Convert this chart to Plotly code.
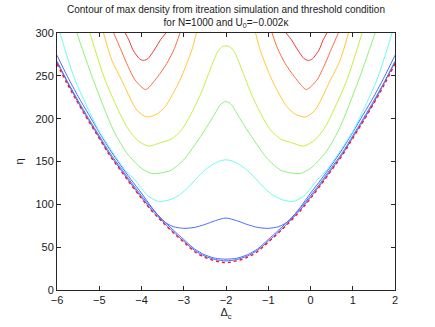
"""
Contour of max density (iteration simulation) with threshold condition,
N=1000, U0=-0.002 kappa. Contour levels traced from the reference picture.
"""
import plotly.graph_objects as go

FONT = "Liberation Sans, Arial, Helvetica, sans-serif"

# threshold condition (red markers) and the near-threshold blue levels
THRESH_X = [-6.0, -5.75, -5.5, -5.25, -5.0, -4.75, -4.5, -4.25, -4.0, -3.75, -3.5,
            -3.25, -3.0, -2.75, -2.5, -2.25, -2.0, -1.75, -1.5, -1.25, -1.0, -0.75,
            -0.5, -0.25, 0.0, 0.25, 0.5, 0.75, 1.0, 1.25, 1.5, 1.75, 2.0]
THRESH_ETA = [264, 240, 218, 197, 177, 157, 140, 123, 107, 92, 79, 67, 56, 45, 38, 34,
              32, 34, 38, 45, 56, 67, 79, 92, 107, 123, 140, 157, 177, 197, 218, 240, 264]
BLUE_A_ETA = [267, 243, 221, 200, 180, 160, 143, 126, 110, 95, 82, 70, 59, 48, 41, 37,
              36, 37, 41, 48, 59, 70, 82, 95, 110, 126, 143, 160, 180, 200, 221, 243, 267]
BLUE_B_ETA = [266, 242, 219, 198, 178, 158, 141, 124, 108, 93, 80, 68, 57, 46.5, 39.5,
              35.5, 34, 35.5, 39.5, 46.5, 57, 68, 80, 93, 108, 124, 141, 158, 178, 198,
              219, 242, 266]
BLUE_BUMP_ETA = [274, 249, 226, 205, 184, 164, 146, 129, 113, 96, 81, 74, 72, 73, 76.5,
                 81, 84, 81, 76.5, 73, 72, 74, 81, 96, 113, 129, 146, 164, 184, 205, 226,
                 249, 274]

# levels spanning the whole window
CYAN_X = [-5.93, -5.57, -5.02, -4.71, -4.4, -4.15, -3.85, -3.6, -3.35, -3.1, -2.89,
          -2.7, -2.5, -2.3, -2.15, -2.0, -1.85, -1.7, -1.5, -1.3, -1.11, -0.9, -0.65,
          -0.4, -0.15, 0.15, 0.4, 0.71, 1.02, 1.57, 1.93]
CYAN_ETA = [300, 245, 187, 163, 141, 128, 110, 103.5, 105, 111, 120, 130, 140, 147,
            150.5, 152, 150.5, 147, 140, 130, 120, 111, 105, 103.5, 110, 128, 141, 163,
            187, 245, 300]

GREEN_X = [-5.53, -5.14, -4.67, -4.35, -4.0, -3.76, -3.5, -3.29, -3.0, -2.66, -2.42,
           -2.26, -2.13, -2.0, -1.87, -1.74, -1.58, -1.34, -1.0, -0.71, -0.5, -0.24,
           0.0, 0.35, 0.67, 1.14, 1.53]
GREEN_ETA = [300, 245, 187, 160, 142, 136, 137, 140, 152, 175, 193, 206, 216.5, 220,
             216.5, 206, 193, 175, 152, 140, 137, 136, 142, 160, 187, 245, 300]

YGREEN_X = [-5.22, -4.86, -4.35, -4.1, -3.84, -3.55, -3.3, -3.05, -2.8, -2.58, -2.4,
            -2.2, -2.1, -2.0, -1.9, -1.8, -1.6, -1.42, -1.2, -0.95, -0.7, -0.45, -0.16,
            0.1, 0.35, 0.86, 1.22]
YGREEN_ETA = [300, 245, 190.5, 175, 168, 172, 176, 187, 208, 231, 254, 278, 283.5, 285,
              283.5, 278, 254, 231, 208, 187, 176, 172, 168, 175, 190.5, 245, 300]

# closed-top levels: one U on each side of the centre
YELLOW_L_X = [-4.9, -4.7, -4.47, -4.11, -3.88, -3.65, -3.44, -3.09, -2.81, -2.7]
YELLOW_R_X = [-1.3, -1.19, -0.91, -0.56, -0.35, -0.12, 0.11, 0.47, 0.7, 0.9]
YELLOW_ETA = [300, 268, 245, 210, 202, 205, 214, 245, 280, 300]
YELLOW_R_ETA = [300, 280, 245, 214, 205, 202, 210, 245, 268, 300]

ORANGE_L_X = [-4.66, -4.5, -4.35, -4.15, -3.9, -3.68, -3.4, -3.22, -3.09]
ORANGE_R_X = [-0.91, -0.78, -0.6, -0.32, -0.1, 0.15, 0.35, 0.5, 0.66]
ORANGE_ETA = [300, 282, 264.5, 245, 234, 245, 264.5, 282, 300]

RED_L_X = [-4.39, -4.3, -4.2, -4.05, -3.96, -3.85, -3.7, -3.55, -3.42]
RED_R_X = [-0.58, -0.45, -0.3, -0.15, -0.04, 0.05, 0.2, 0.3, 0.39]
RED_ETA = [300, 292, 280, 270, 268, 270, 280, 292, 300]

X_TICKS = [-6, -5, -4, -3, -2, -1, 0, 1, 2]
Y_TICKS = [0, 50, 100, 150, 200, 250, 300]

COLORS = {
    "blue": "#4a6cff",
    "cyan": "#6cfcf0",
    "green": "#8ef27a",
    "ygreen": "#c4f040",
    "yellow": "#ffc832",
    "orange": "#ff6c3c",
    "red": "#f03a3a",
}


def _line(fig, x, y, color, width=1.0):
    fig.add_trace(go.Scatter(x=x, y=y, mode="lines", line={"color": color, "width": width,
                                                          "shape": "spline", "smoothing": 0.7},
                             showlegend=False, hoverinfo="skip"))


def build() -> go.Figure:
    fig = go.Figure()
    _line(fig, THRESH_X, BLUE_BUMP_ETA, COLORS["blue"])
    _line(fig, THRESH_X, BLUE_A_ETA, COLORS["blue"])
    _line(fig, THRESH_X, BLUE_B_ETA, COLORS["blue"])
    _line(fig, CYAN_X, CYAN_ETA, COLORS["cyan"])
    _line(fig, GREEN_X, GREEN_ETA, COLORS["green"])
    _line(fig, YGREEN_X, YGREEN_ETA, COLORS["ygreen"])
    _line(fig, YELLOW_L_X, YELLOW_ETA, COLORS["yellow"])
    _line(fig, YELLOW_R_X, YELLOW_R_ETA, COLORS["yellow"])
    _line(fig, ORANGE_L_X, ORANGE_ETA, COLORS["orange"])
    _line(fig, ORANGE_R_X, ORANGE_ETA, COLORS["orange"])
    _line(fig, RED_L_X, RED_ETA, COLORS["red"])
    _line(fig, RED_R_X, RED_ETA, COLORS["red"])

    # threshold condition
    fig.add_trace(go.Scatter(
        x=THRESH_X, y=THRESH_ETA, mode="lines",
        line={"color": "#ff1a1a", "width": 1.4, "dash": "dot", "shape": "spline"},
        showlegend=False, hoverinfo="skip",
    ))

    axis = dict(
        showline=True, linecolor="#262626", linewidth=1, mirror="ticks",
        ticks="inside", ticklen=4, tickcolor="#262626", showgrid=False, zeroline=False,
        automargin=False,
        tickfont={"size": 11, "color": "#1a1a1a", "family": FONT},
    )
    fig.update_xaxes(range=[-6, 2], tickvals=X_TICKS, title={"text": "Δ<sub>c</sub>",
                     "font": {"size": 11, "color": "#1a1a1a"}, "standoff": 3}, **axis)
    fig.update_yaxes(range=[0, 300], tickvals=Y_TICKS, title={"text": "η",
                     "font": {"size": 11, "color": "#1a1a1a"}, "standoff": 9}, **axis)

    fig.update_layout(
        width=435, height=327,
        margin={"l": 57, "r": 40, "t": 33, "b": 37, "autoexpand": False},
        paper_bgcolor="white", plot_bgcolor="white",
        font={"family": FONT, "color": "#1a1a1a"},
        title={
            "text": "Contour of max density from itreation simulation and threshold condition"
                    "<br>for N=1000 and U<sub>0</sub>=−0.002κ",
            "x": 0.5, "xref": "paper", "xanchor": "center",
            "y": 0.961, "yref": "container", "yanchor": "top",
            "font": {"size": 10, "color": "#1a1a1a"},
        },
    )
    return fig


if __name__ == "__main__":
    build().write_html("out.html", config={"displayModeBar": False},
                       post_script="document.body.style.margin='0';")
